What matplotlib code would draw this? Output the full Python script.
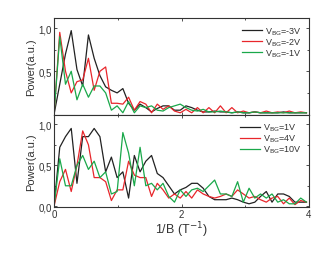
import matplotlib
matplotlib.use("Agg")
import matplotlib.pyplot as plt
from matplotlib.ticker import FuncFormatter, MultipleLocator

plt.rcParams['font.family'] = ['Liberation Sans', 'DejaVu Sans']

# x grid (1/B, T^-1), step 0.09
x = [round(i * 0.09, 2) for i in range(45)]

top_m3V = [0, 0.35, 0.7, 0.97, 0.52, 0.33, 0.92, 0.65, 0.45, 0.32, 0.28, 0.25, 0.3, 0.13, 0.05,
           0.12, 0.08, 0.03, 0.07, 0.1, 0.1, 0.05, 0.05, 0.1, 0.08, 0.05, 0.03, 0.03, 0.04, 0.03,
           0.03, 0.02, 0.03, 0.02, 0.02, 0.03, 0.02, 0.02, 0.02, 0.02, 0.03, 0.02, 0.02, 0.02, 0.02]
top_m2V = [0, 0.95, 0.5, 0.25, 0.38, 0.4, 0.65, 0.28, 0.5, 0.55, 0.13, 0.13, 0.12, 0.2, 0.05,
           0.15, 0.12, 0.02, 0.12, 0.06, 0.1, 0.04, 0.02, 0.06, 0.02, 0.08, 0.02, 0.08, 0.02, 0.1,
           0.02, 0.08, 0.02, 0.04, 0.02, 0.03, 0.02, 0.04, 0.02, 0.03, 0.02, 0.04, 0.02, 0.03, 0.02]
top_m1V = [0, 0.9, 0.35, 0.5, 0.17, 0.35, 0.2, 0.33, 0.33, 0.25, 0.05, 0.1, 0.02, 0.15, 0.02,
           0.1, 0.08, 0.1, 0.05, 0.04, 0.08, 0.1, 0.12, 0.08, 0.05, 0.04, 0.06, 0.03, 0.03, 0.04,
           0.03, 0.02, 0.03, 0.02, 0.02, 0.03, 0.02, 0.02, 0.02, 0.02, 0.02, 0.02, 0.02, 0.02, 0.02]

bot_1V = [0, 0.72, 0.85, 0.95, 0.28, 0.85, 0.85, 0.95, 0.85, 0.42, 0.6, 0.35, 0.42, 0.1, 0.62,
          0.42, 0.55, 0.62, 0.4, 0.35, 0.25, 0.15, 0.2, 0.23, 0.28, 0.28, 0.22, 0.12, 0.08, 0.08,
          0.08, 0.1, 0.08, 0.05, 0.03, 0.05, 0.12, 0.18, 0.05, 0.15, 0.15, 0.12, 0.05, 0.05, 0.05]
bot_4V = [0, 0.3, 0.45, 0.18, 0.5, 0.92, 0.75, 0.35, 0.35, 0.3, 0.07, 0.2, 0.2, 0.55, 0.38,
          0.35, 0.35, 0.12, 0.28, 0.2, 0.1, 0.15, 0.1, 0.18, 0.1, 0.2, 0.15, 0.12, 0.1, 0.12,
          0.15, 0.12, 0.2, 0.15, 0.1, 0.12, 0.08, 0.05, 0.1, 0.12, 0.03, 0.1, 0.02, 0.07, 0.05]
bot_10V = [0, 0.58, 0.25, 0.25, 0.5, 0.62, 0.45, 0.55, 0.35, 0.42, 0.15, 0.18, 0.9, 0.65, 0.25,
           0.72, 0.25, 0.28, 0.2, 0.28, 0.12, 0.05, 0.2, 0.12, 0.2, 0.22, 0.18, 0.25, 0.32, 0.15,
           0.15, 0.12, 0.3, 0.05, 0.22, 0.1, 0.15, 0.1, 0.15, 0.05, 0.08, 0.03, 0.03, 0.1, 0.05]

top_labels = [r'V$_{\rm BG}$=-3V', r'V$_{\rm BG}$=-2V', r'V$_{\rm BG}$=-1V']
bot_labels = [r'V$_{\rm BG}$=1V', r'V$_{\rm BG}$=4V', r'V$_{\rm BG}$=10V']
colors = ['#222222', '#e8262b', '#1aa84a']

fig = plt.figure(figsize=(3.32, 2.55), dpi=100)
ax1 = fig.add_axes([0.1627, 0.547, 0.768, 0.3785])
ax2 = fig.add_axes([0.1627, 0.184, 0.768, 0.363])

comma = FuncFormatter(lambda v, p: ('%.1f' % v).replace('.', ','))

for ax, series, labels in [(ax1, [top_m3V, top_m2V, top_m1V], top_labels),
                           (ax2, [bot_1V, bot_4V, bot_10V], bot_labels)]:
    for s, c, l in zip(series, colors, labels):
        ax.plot(x, s, color=c, lw=0.9, label=l)
    ax.set_xlim(0, 4)
    ax.xaxis.set_major_locator(MultipleLocator(2))
    ax.xaxis.set_minor_locator(MultipleLocator(1))
    ax.yaxis.set_major_locator(MultipleLocator(0.5))
    ax.yaxis.set_minor_locator(MultipleLocator(0.25))
    ax.yaxis.set_major_formatter(comma)
    ax.tick_params(which='both', direction='in', top=True, right=True, labelsize=7,
                   width=0.6, pad=1.5, colors='#333333')
    ax.tick_params(which='major', length=2.5)
    ax.tick_params(which='minor', length=1.5)
    for sp in ax.spines.values():
        sp.set_linewidth(0.8)
        sp.set_color('#333333')
    ax.set_ylabel('Power(a.u.)', fontsize=8, labelpad=2, color='#333333')
    leg = ax.legend(loc='upper right', frameon=False, fontsize=6.5, handlelength=2.3,
                    handletextpad=0.3, labelspacing=-0.05, borderaxespad=0.4,
                    bbox_to_anchor=(1.0, 1.0))
    for t in leg.get_texts():
        t.set_color('#333333')

ax1.set_ylim(0, 1.116)
ax1.set_yticks([0.5, 1.0])
ax1.tick_params(labelbottom=False)
ax2.set_ylim(-0.01, 1.12)
ax2.set_yticks([0.0, 0.5, 1.0])
ax2.set_xlabel(r'1/B (T$^{-1}$)', fontsize=9, labelpad=0, color='#333333')

fig.savefig('out.png', dpi=100)
